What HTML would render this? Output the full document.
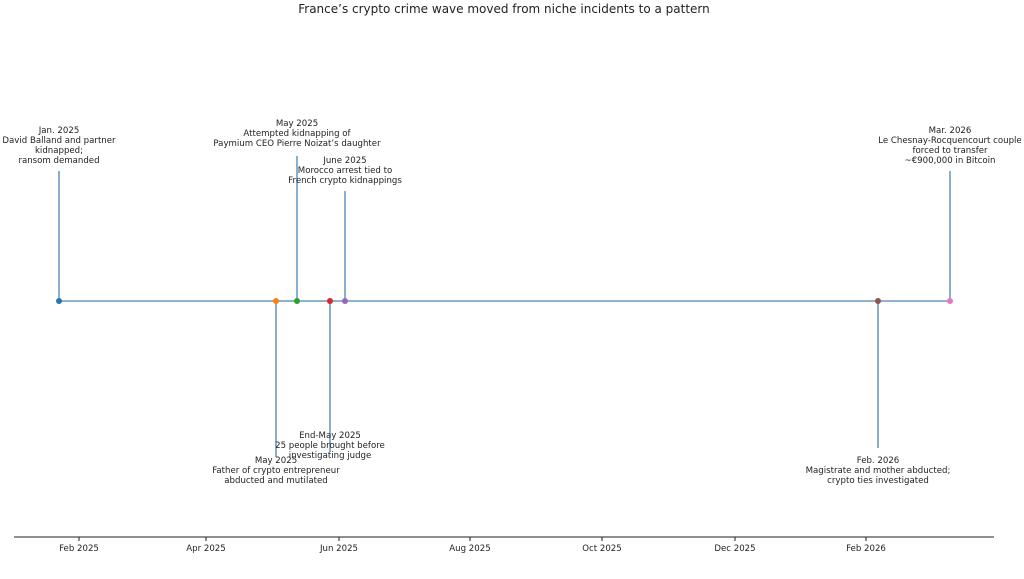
<!DOCTYPE html><html><head><style>body{margin:0;background:#fff}svg{display:block}text{font-family:"DejaVu Sans","Liberation Sans",sans-serif;font-size:8.6px;fill:#222}</style></head><body>
<svg width="1024" height="579" viewBox="0 0 1024 579">
<text x="504" y="13" text-anchor="middle" style="font-size:12px">France’s crypto crime wave moved from niche incidents to a pattern</text>
<g stroke="#4a84b5" stroke-width="1.3">
<line x1="59" y1="301" x2="950" y2="301"/>
<line x1="59" y1="301" x2="59" y2="171"/>
<line x1="297" y1="301" x2="297" y2="156"/>
<line x1="345" y1="301" x2="345" y2="191"/>
<line x1="950" y1="301" x2="950" y2="171"/>
<line x1="276" y1="301" x2="276" y2="457"/>
<line x1="330" y1="301" x2="330" y2="452"/>
<line x1="878" y1="301" x2="878" y2="448"/>
</g>
<circle cx="59" cy="301" r="3" fill="#1f77b4"/>
<circle cx="276" cy="301" r="3" fill="#ff7f0e"/>
<circle cx="297" cy="301" r="3" fill="#2ca02c"/>
<circle cx="330" cy="301" r="3" fill="#d62728"/>
<circle cx="345" cy="301" r="3" fill="#9467bd"/>
<circle cx="878" cy="301" r="3" fill="#8c564b"/>
<circle cx="950" cy="301" r="3" fill="#e377c2"/>
<g text-anchor="middle">
<text x="59" y="133">Jan. 2025</text><text x="59" y="143">David Balland and partner</text><text x="59" y="153">kidnapped;</text><text x="59" y="163">ransom demanded</text>
<text x="297" y="126">May 2025</text><text x="297" y="136">Attempted kidnapping of</text><text x="297" y="146">Paymium CEO Pierre Noizat’s daughter</text>
<text x="345" y="163">June 2025</text><text x="345" y="173">Morocco arrest tied to</text><text x="345" y="183">French crypto kidnappings</text>
<text x="950" y="133">Mar. 2026</text><text x="950" y="143">Le Chesnay-Rocquencourt couple</text><text x="950" y="153">forced to transfer</text><text x="950" y="163">~€900,000 in Bitcoin</text>
<text x="276" y="463">May 2025</text><text x="276" y="473">Father of crypto entrepreneur</text><text x="276" y="483">abducted and mutilated</text>
<text x="330" y="438">End-May 2025</text><text x="330" y="448">25 people brought before</text><text x="330" y="458">investigating judge</text>
<text x="878" y="463">Feb. 2026</text><text x="878" y="473">Magistrate and mother abducted;</text><text x="878" y="483">crypto ties investigated</text>
</g>
<line x1="14" y1="537" x2="994" y2="537" stroke="#222" stroke-width="1"/>
<g stroke="#222"><line x1="79" y1="537" x2="79" y2="541"/><line x1="206" y1="537" x2="206" y2="541"/><line x1="339" y1="537" x2="339" y2="541"/><line x1="470" y1="537" x2="470" y2="541"/><line x1="602" y1="537" x2="602" y2="541"/><line x1="735" y1="537" x2="735" y2="541"/><line x1="866" y1="537" x2="866" y2="541"/></g>
<g text-anchor="middle"><text x="79" y="551">Feb 2025</text><text x="206" y="551">Apr 2025</text><text x="339" y="551">Jun 2025</text><text x="470" y="551">Aug 2025</text><text x="602" y="551">Oct 2025</text><text x="735" y="551">Dec 2025</text><text x="866" y="551">Feb 2026</text></g>
</svg></body></html>
